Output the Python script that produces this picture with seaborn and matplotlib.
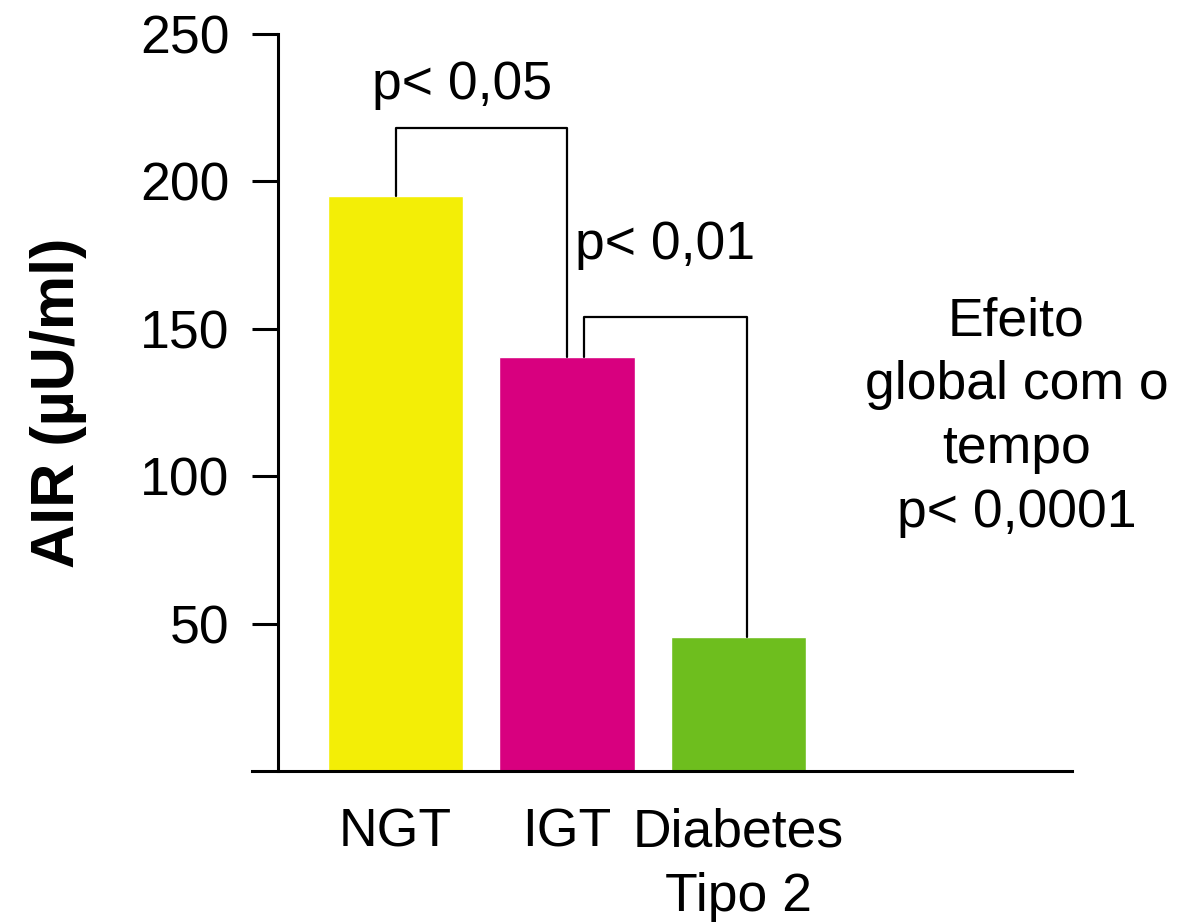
import matplotlib
matplotlib.use("Agg")
import matplotlib.pyplot as plt
import seaborn as sns
import pandas as pd

groups = ["NGT", "IGT", "Diabetes\nTipo 2"]
air_values = [195.2, 140.4, 45.5]
bar_colors = ["#F3EE06", "#D8007F", "#6EBE1E"]
y_ticks = [50, 100, 150, 200, 250]

# comparison brackets: (left group, right group, bracket top, label)
brackets = [(0, 1, 218, "p< 0,05"), (1.1, 2.05, 154, "p< 0,01")]
note_text = "Efeito\nglobal com o\ntempo\np< 0,0001"

sns.set_theme(style="white")
plt.rcParams['font.family'] = ['Liberation Sans', 'DejaVu Sans']
plt.rcParams['text.color'] = 'black'
plt.rcParams['axes.labelcolor'] = 'black'
plt.rcParams['xtick.color'] = 'black'
plt.rcParams['ytick.color'] = 'black'

fs = 38.5

df = pd.DataFrame({"group": groups, "air": air_values})

fig = plt.figure(figsize=(11.92, 9.23), dpi=100)
ax = fig.add_axes([252 / 1192, 1 - 771 / 923, (1072 - 252) / 1192, (771 - 34) / 923])

sns.barplot(data=df, x="group", y="air", hue="group", palette=bar_colors,
            width=0.79, saturation=1, legend=False, ax=ax)

ax.set_xlim(-0.837, 3.944)
ax.set_ylim(0, 250)
ax.set_yticks(y_ticks)
ax.set_yticklabels([str(v) for v in y_ticks])

for s in ["top", "right"]:
    ax.spines[s].set_visible(False)
ax.spines["left"].set_position(("axes", 0.0317))
ax.spines["left"].set_linewidth(2.2)
ax.spines["bottom"].set_linewidth(2.2)
ax.spines["left"].set_color("black")
ax.spines["bottom"].set_color("black")
ax.tick_params(axis="y", length=19, width=2.2, color="black", pad=16, left=True,
               labelsize=fs, labelcolor="black")
ax.tick_params(axis="x", length=0, pad=26, labelsize=fs, labelcolor="black")
for lbl in ax.get_xticklabels():
    lbl.set_linespacing(1.38)

ax.set_xlabel("")
ax.set_ylabel("AIR (µU/ml)", fontsize=44, fontweight="bold", labelpad=38, color="black")

for x0, x1, top, label in brackets:
    y0 = air_values[int(round(x0))]
    y1 = air_values[int(round(x1))]
    ax.plot([x0, x0, x1, x1], [y0, top, top, y1], color="black", lw=1.6)

ax.text(0.39, 232.7, brackets[0][3], ha="center", va="center", fontsize=fs)
ax.text(1.57, 178.4, brackets[1][3], ha="center", va="center", fontsize=fs)
ax.text(3.62, 120, note_text, ha="center", va="center", fontsize=fs, linespacing=1.36)

fig.savefig("out.png", dpi=100)
